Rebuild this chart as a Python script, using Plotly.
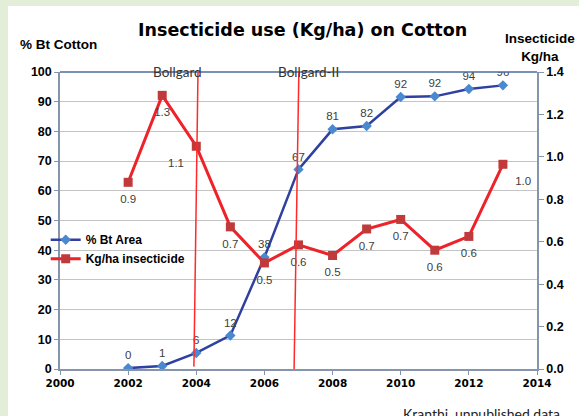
import plotly.graph_objects as go

# ---- data ----
years = [2002, 2003, 2004, 2005, 2006, 2007, 2008, 2009, 2010, 2011, 2012, 2013]
bt_area = [0.3, 1.0, 5.4, 11.3, 37.6, 67.2, 80.7, 81.8, 91.6, 91.8, 94.3, 95.5]
bt_labels = ["0", "1", "6", "12", "38", "67", "81", "82", "92", "92", "94", "96"]
insecticide = [0.88, 1.29, 1.05, 0.67, 0.50, 0.585, 0.535, 0.66, 0.705, 0.56, 0.625, 0.965]
ins_labels = ["0.9", "1.3", "1.1", "0.7", "0.5", "0.6", "0.5", "0.7", "0.7", "0.6", "0.6", "1.0"]
ins_label_pos = ["bottom center", "bottom center", "bottom left", "bottom center",
                 "bottom center", "bottom center", "bottom center", "bottom center",
                 "bottom center", "bottom center", "bottom center", "bottom right"]

event_names = ["Bollgard", "Bollgard-II"]
event_top_x = [2004.05, 2007.01]
event_bottom_x = [2003.93, 2006.87]
event_bottom_y = [0.8, -0.3]
event_label_x = [2003.46, 2007.28]

x_ticks = [2000, 2002, 2004, 2006, 2008, 2010, 2012, 2014]
left_ticks = list(range(0, 101, 10))
right_ticks = [0.0, 0.2, 0.4, 0.6, 0.8, 1.0, 1.2, 1.4]

BLUE_LINE = "#3040a0"
BLUE_MARK = "#4a88d0"
RED_LINE = "#ee2228"
RED_MARK = "#c0393b"

fig = go.Figure()

fig.add_trace(go.Scatter(
    x=years, y=bt_area, mode="lines+markers", name="% Bt Area",
    line=dict(color=BLUE_LINE, width=2.5),
    marker=dict(symbol="diamond", size=8, color=BLUE_MARK),
    yaxis="y"))
fig.add_trace(go.Scatter(
    x=years, y=insecticide, mode="lines+markers", name="Kg/ha insecticide",
    line=dict(color=RED_LINE, width=3),
    marker=dict(symbol="square", size=9, color=RED_MARK),
    yaxis="y2"))

label_font = dict(family="Liberation Sans, Arial", size=11.5, color="#404040")
fig.add_trace(go.Scatter(
    x=years, y=bt_area, mode="markers+text", text=bt_labels, textposition="top center",
    marker=dict(size=8, color="rgba(0,0,0,0)"),
    textfont=label_font, showlegend=False, hoverinfo="skip", yaxis="y"))
fig.add_trace(go.Scatter(
    x=years, y=insecticide, mode="markers+text", text=ins_labels, textposition=ins_label_pos,
    marker=dict(size=18, color="rgba(0,0,0,0)"),
    textfont=label_font, showlegend=False, hoverinfo="skip", yaxis="y2"))

shapes = []
# outer green frame (top and left bands)
GREEN = "#e3eed8"
shapes.append(dict(type="rect", xref="paper", yref="paper",
                   x0=-60/477, x1=(8-60)/477, y0=-47/297, y1=1+72/297,
                   fillcolor=GREEN, line=dict(width=0), layer="below"))
shapes.append(dict(type="rect", xref="paper", yref="paper",
                   x0=-60/477, x1=1+42/477, y0=1+66/297, y1=1+72/297,
                   fillcolor=GREEN, line=dict(width=0), layer="below"))
# top border of plot
shapes.append(dict(type="line", xref="paper", yref="paper", x0=0, x1=1, y0=1, y1=1,
                   line=dict(color="#4e6c9e", width=1.5)))
for tx, bx, by in zip(event_top_x, event_bottom_x, event_bottom_y):
    shapes.append(dict(type="line", xref="x", yref="y", x0=tx, x1=bx, y0=100, y1=by,
                       line=dict(color="#ff2a2a", width=1.5)))

annotations = [
    dict(text="<b>Insecticide use (Kg/ha) on Cotton</b>", xref="paper", yref="paper",
         x=0.5094, y=1.141, xanchor="center", yanchor="middle", showarrow=False,
         font=dict(family="DejaVu Sans", size=17.5, color="#000000")),
    dict(text="<b>% Bt Cotton</b>", xref="paper", yref="paper",
         x=-0.004, y=1.091, xanchor="center", yanchor="middle", showarrow=False,
         font=dict(family="Liberation Sans, Arial", size=13.5, color="#000000")),
    dict(text="<b>Insecticide<br>Kg/ha</b>", xref="paper", yref="paper",
         x=1.006, y=1.084, xanchor="center", yanchor="middle", showarrow=False,
         font=dict(family="Liberation Sans, Arial", size=13.5, color="#000000")),
    dict(text="Kranthi, unpublished data", xref="paper", yref="paper",
         x=(401-60)/477, y=-0.114, xanchor="left", yanchor="top", showarrow=False,
         font=dict(family="Lato", size=14, color="#222222")),
]
for name, lx in zip(event_names, event_label_x):
    annotations.append(dict(text=name, xref="x", yref="y", x=lx, y=100,
                            xanchor="center", yanchor="middle", showarrow=False,
                            font=dict(family="Lato", size=13.5, color="#333333")))

AX = "#8595ad"
fig.update_layout(
    width=579, height=416,
    margin=dict(l=60, r=42, t=72, b=47),
    paper_bgcolor="white", plot_bgcolor="white",
    showlegend=True,
    legend=dict(x=-0.03, y=0.484, xanchor="left", yanchor="top",
                bgcolor="rgba(0,0,0,0)", tracegroupgap=0, itemwidth=30,
                font=dict(family="Liberation Sans, Arial", size=12, color="#000000",
                          weight="bold")),
    xaxis=dict(range=[2000, 2014], tickvals=x_ticks, showgrid=False, zeroline=False,
               showline=True, linecolor=AX, linewidth=1.5, ticks="outside", ticklen=4,
               tickcolor=AX,
               tickfont=dict(family="DejaVu Sans", size=10.5, color="#000000", weight="bold")),
    yaxis=dict(range=[0, 100], tickvals=left_ticks, showgrid=True, gridcolor="#c4c4c4",
               gridwidth=1.2, zeroline=False, showline=True, linecolor=AX, linewidth=1.5,
               ticks="outside", ticklen=4, tickcolor=AX,
               tickfont=dict(family="Liberation Sans, Arial", size=12.5, color="#000000",
                             weight="bold")),
    yaxis2=dict(range=[0, 1.4], tickvals=right_ticks, tickformat=".1f", overlaying="y",
                side="right", showgrid=False, zeroline=False, showline=True,
                linecolor=AX, linewidth=1.5, ticks="outside", ticklen=5, tickcolor=AX,
                tickfont=dict(family="Liberation Sans, Arial", size=12.5, color="#000000",
                              weight="bold")),
    shapes=shapes,
    annotations=annotations,
)

fig.write_html("out.html", config={"displayModeBar": False},
               post_script="document.body.style.margin='0px';document.body.style.overflow='hidden';")
